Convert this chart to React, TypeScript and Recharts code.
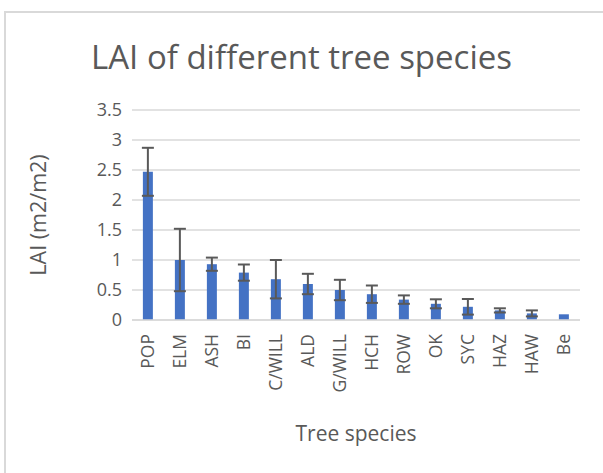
import { BarChart, Bar, ErrorBar, XAxis, YAxis, CartesianGrid, Label } from "recharts";

const species = ["POP", "ELM", "ASH", "BI", "C/WILL", "ALD", "G/WILL", "HCH", "ROW", "OK", "SYC", "HAZ", "HAW", "Be"];
const lai = [2.47, 1.0, 0.93, 0.79, 0.68, 0.6, 0.5, 0.43, 0.34, 0.27, 0.22, 0.16, 0.11, 0.095];
const laiError = [0.4, 0.52, 0.11, 0.135, 0.32, 0.17, 0.17, 0.145, 0.07, 0.075, 0.13, 0.035, 0.05, null];
const yTicks = [0, 0.5, 1, 1.5, 2, 2.5, 3, 3.5];

const data = species.map((name, i) => ({ name, lai: lai[i], err: laiError[i] }));

const FONT = "'Open Sans', 'Noto Sans', sans-serif";
const GREY = "#595959";

function SpeciesTick({ x, y, payload }: any) {
  return (
    <text
      x={x}
      y={y}
      transform={`rotate(-90, ${x}, ${y})`}
      textAnchor="end"
      dy="0.35em"
      fill={GREY}
      fontSize={17.5}
      fontFamily={FONT}
    >
      {payload.value}
    </text>
  );
}

export default function App() {
  return (
    <div className="lai-page">
      <div className="lai-frame" />
      <div className="lai-title">LAI of different tree species</div>
      <div className="lai-chart">
        <BarChart width={603} height={473} data={data} margin={{ top: 110, right: 23, bottom: 23, left: 72 }} barCategoryGap="34%">
          <CartesianGrid vertical={false} stroke="#d9d9d9" strokeWidth={1.3} />
          <XAxis
            dataKey="name"
            interval={0}
            height={130}
            tickLine={false}
            axisLine={{ stroke: "#d9d9d9", strokeWidth: 1.3 }}
            tickSize={0}
            tickMargin={14}
            tick={<SpeciesTick />}
          >
            <Label value="Tree species" position="insideBottom" offset={9} fill={GREY} fontSize={21} fontFamily={FONT} />
          </XAxis>
          <YAxis
            width={60}
            domain={[0, 3.5]}
            ticks={yTicks}
            tickLine={false}
            axisLine={false}
            tickSize={0}
            tickMargin={10}
            tick={{ fill: GREY, fontSize: 18, fontFamily: FONT }}
          >
            <Label value="LAI (m2/m2)" angle={-90} position="insideLeft" offset={-34} style={{ textAnchor: "middle" }} fill={GREY} fontSize={21.5} fontFamily={FONT} />
          </YAxis>
          <Bar dataKey="lai" fill="#4472c4" isAnimationActive={false}>
            <ErrorBar dataKey="err" width={6} stroke={GREY} strokeWidth={2} direction="y" />
          </Bar>
        </BarChart>
      </div>
    </div>
  );
}

const style = new CSSStyleSheet();
style.replaceSync(`
body {
  margin: 0;
  background: #fff;
}
.lai-page {
  position: relative;
  width: 603px;
  height: 473px;
  overflow: hidden;
}
.lai-frame {
  position: absolute;
  left: 4px;
  top: 11px;
  width: 640px;
  height: 500px;
  border: 2px solid #d9d9d9;
}
.lai-title {
  position: absolute;
  left: 0;
  top: 34px;
  width: 603px;
  text-align: center;
  font-family: 'Open Sans', 'Noto Sans', sans-serif;
  font-size: 33px;
  color: #595959;
  line-height: 46px;
}
.lai-chart {
  position: absolute;
  left: 0;
  top: 0;
}
`);

if (typeof document !== "undefined" && !document.adoptedStyleSheets.includes(style)) {
  document.adoptedStyleSheets = [...document.adoptedStyleSheets, style];
}
